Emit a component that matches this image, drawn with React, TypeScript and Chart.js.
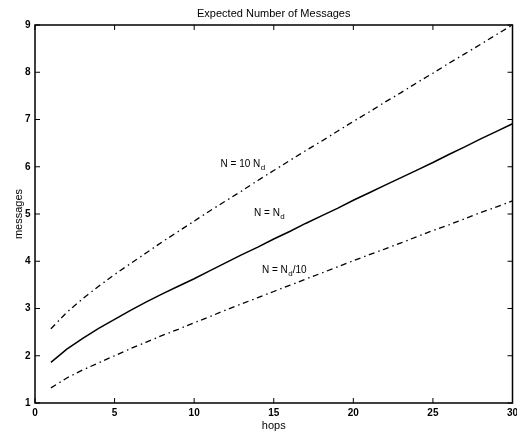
import React, { useEffect, useRef } from 'react';
import { Chart, registerables } from 'chart.js';

Chart.register(...registerables);

const FONT = '"Liberation Sans", Arial, Helvetica, sans-serif';

const hops = [1, 2, 3, 4, 5, 6, 7, 8, 9, 10, 11, 12, 13, 14, 15, 16, 17, 18, 19, 20, 21, 22, 23, 24, 25, 26, 27, 28, 29, 30];

// N = 10 Nd (upper dash-dot)
const msgTenNd = [2.57, 2.92, 3.21, 3.47, 3.72, 3.95, 4.18, 4.41, 4.63, 4.85, 5.07, 5.28, 5.49, 5.71, 5.92, 6.13, 6.34, 6.54, 6.75, 6.96, 7.16, 7.37, 7.57, 7.78, 7.98, 8.19, 8.39, 8.59, 8.80, 9.0];

// N = Nd (solid)
const msgNd = [1.86, 2.14, 2.37, 2.58, 2.77, 2.96, 3.14, 3.31, 3.47, 3.63, 3.80, 3.97, 4.14, 4.30, 4.47, 4.63, 4.80, 4.96, 5.12, 5.29, 5.45, 5.61, 5.77, 5.93, 6.09, 6.26, 6.42, 6.59, 6.75, 6.91];

// N = Nd/10 (lower dash-dot)
const msgNdTenth = [1.32, 1.53, 1.70, 1.85, 2.0, 2.15, 2.29, 2.43, 2.56, 2.70, 2.83, 2.97, 3.10, 3.23, 3.36, 3.49, 3.62, 3.75, 3.88, 4.01, 4.14, 4.26, 4.39, 4.52, 4.65, 4.77, 4.90, 5.03, 5.15, 5.28];

const xTicks = [0, 5, 10, 15, 20, 25, 30];
const yTicks = [1, 2, 3, 4, 5, 6, 7, 8, 9];

const curveLabels = [
  { main: 'N = 10 N', sub: 'd', tail: '', h: 11.66, v: 6.06 },
  { main: 'N = N', sub: 'd', tail: '', h: 13.76, v: 5.02 },
  { main: 'N = N', sub: 'd', tail: '/10', h: 14.26, v: 3.81 },
];

const DASH_DOT = [6, 4, 1.5, 3.5];

const framePlugin = {
  id: 'frameAndLabels',
  afterDatasetsDraw(chart: any) {
    const { ctx, chartArea, scales } = chart;
    const { left, right, top, bottom } = chartArea;
    const x = scales.x;
    const y = scales.y;
    ctx.save();
    ctx.strokeStyle = '#000';
    ctx.setLineDash([]);
    ctx.lineWidth = 1.5;
    ctx.strokeRect(left, top, right - left, bottom - top);
    ctx.lineWidth = 1;
    const tl = 5;
    ctx.beginPath();
    xTicks.forEach((v) => {
      const px = x.getPixelForValue(v);
      ctx.moveTo(px, bottom);
      ctx.lineTo(px, bottom - tl);
      ctx.moveTo(px, top);
      ctx.lineTo(px, top + tl);
    });
    yTicks.forEach((v) => {
      const py = y.getPixelForValue(v);
      ctx.moveTo(left, py);
      ctx.lineTo(left + tl, py);
      ctx.moveTo(right, py);
      ctx.lineTo(right - tl, py);
    });
    ctx.stroke();

    ctx.fillStyle = '#000';
    ctx.textBaseline = 'middle';
    ctx.textAlign = 'left';
    curveLabels.forEach((lab) => {
      const px = x.getPixelForValue(lab.h);
      const py = y.getPixelForValue(lab.v);
      ctx.font = `10px ${FONT}`;
      ctx.fillText(lab.main, px, py);
      let w = ctx.measureText(lab.main).width;
      ctx.font = `8px ${FONT}`;
      ctx.fillText(lab.sub, px + w + 0.5, py + 4);
      const sw = ctx.measureText(lab.sub).width;
      if (lab.tail) {
        ctx.font = `10px ${FONT}`;
        ctx.fillText(lab.tail, px + w + 0.5 + sw, py);
      }
    });
    ctx.restore();
  },
};

export default function App() {
  const ref = useRef<HTMLCanvasElement | null>(null);

  useEffect(() => {
    if (!ref.current) return;
    Chart.defaults.font.family = FONT;
    const toPts = (arr: number[]) => hops.map((h, i) => ({ x: h, y: arr[i] }));
    const chart = new Chart(ref.current, {
      type: 'line',
      data: {
        datasets: [
          {
            label: 'N = 10 Nd',
            data: toPts(msgTenNd),
            borderColor: '#000',
            borderWidth: 1.3,
            borderDash: DASH_DOT,
            pointRadius: 0,
            fill: false,
            tension: 0,
          },
          {
            label: 'N = Nd',
            data: toPts(msgNd),
            borderColor: '#000',
            borderWidth: 1.5,
            pointRadius: 0,
            fill: false,
            tension: 0,
          },
          {
            label: 'N = Nd/10',
            data: toPts(msgNdTenth),
            borderColor: '#000',
            borderWidth: 1.3,
            borderDash: DASH_DOT,
            pointRadius: 0,
            fill: false,
            tension: 0,
          },
        ],
      },
      options: {
        animation: false,
        responsive: false,
        maintainAspectRatio: false,
        layout: { padding: { top: 0, left: 0, right: 4.5, bottom: 0 } },
        plugins: {
          legend: { display: false },
          tooltip: { enabled: false },
          title: {
            display: true,
            text: 'Expected Number of Messages',
            color: '#000',
            fullSize: false,
            font: { size: 11, weight: 'normal', family: FONT },
            padding: { top: 7, bottom: 4.8 },
          },
        },
        scales: {
          x: {
            type: 'linear',
            min: 0,
            max: 30,
            afterBuildTicks: (s: any) => {
              s.ticks = xTicks.map((v) => ({ value: v }));
            },
            afterFit: (s: any) => {
              s.height = 32;
              s.paddingLeft = 0;
              s.paddingRight = 0;
            },
            grid: { display: false, drawTicks: false },
            border: { display: false },
            ticks: {
              color: '#000',
              padding: 4,
              maxRotation: 0,
              autoSkip: false,
              font: { size: 10, weight: 'bold', family: FONT },
            },
            title: {
              display: true,
              text: 'hops',
              color: '#000',
              font: { size: 11, family: FONT },
              padding: { top: 0, bottom: 2.4 },
            },
          },
          y: {
            type: 'linear',
            min: 1,
            max: 9,
            afterBuildTicks: (s: any) => {
              s.ticks = yTicks.map((v) => ({ value: v }));
            },
            afterFit: (s: any) => {
              s.width = 35;
              s.paddingTop = 0;
              s.paddingBottom = 0;
            },
            grid: { display: false, drawTicks: false },
            border: { display: false },
            ticks: {
              color: '#000',
              padding: 4.5,
              autoSkip: false,
              font: { size: 10, weight: 'bold', family: FONT },
            },
            title: {
              display: true,
              text: 'messages',
              color: '#000',
              font: { size: 11, family: FONT },
              padding: { top: 12.4, bottom: 0 },
            },
          },
        },
      },
      plugins: [framePlugin],
    } as any);
    return () => chart.destroy();
  }, []);

  return (
    <div style={{ position: 'fixed', left: 0, top: 0, width: 517, height: 435, background: '#fff' }}>
      <canvas ref={ref} width={517} height={435} style={{ width: 517, height: 435, display: 'block' }} />
    </div>
  );
}
